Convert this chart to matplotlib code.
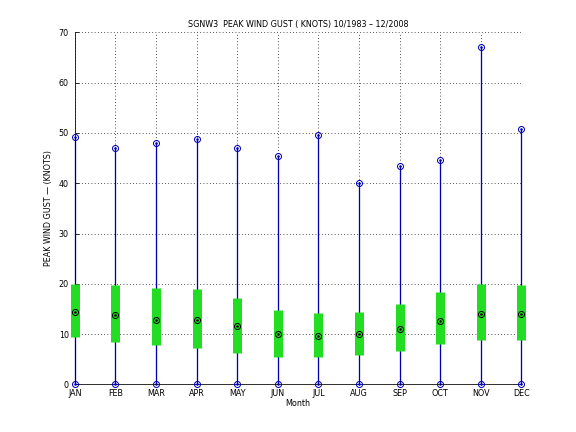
import numpy as np
import matplotlib
matplotlib.use('Agg')
import matplotlib.pyplot as plt

months = ['JAN', 'FEB', 'MAR', 'APR', 'MAY', 'JUN', 'JUL', 'AUG', 'SEP', 'OCT', 'NOV', 'DEC']
gust_max = [49.2, 47.1, 48.1, 48.8, 47.1, 45.5, 49.7, 40.0, 43.5, 44.7, 67.0, 50.8]
gust_min = [0, 0, 0, 0, 0, 0, 0, 0, 0, 0, 0, 0]
gust_mean = [14.5, 13.9, 12.9, 12.8, 11.6, 10.0, 9.7, 10.0, 11.1, 12.7, 14.0, 14.0]
band_low = [9.5, 8.5, 7.8, 7.2, 6.2, 5.4, 5.4, 5.8, 6.6, 8.0, 8.8, 8.8]
band_high = [20.0, 19.7, 19.1, 18.9, 17.1, 14.9, 14.3, 14.5, 16.1, 18.3, 19.9, 19.7]

x = np.arange(1, 13)

fig = plt.figure(figsize=(8, 6), dpi=72)
ax = fig.add_axes([0.13, 0.11, 0.775, 0.815])

ax.vlines(x, gust_min, gust_max, colors='#0000b0', linewidth=1.3, zorder=2, clip_on=False)
ax.vlines(x, band_low, band_high, colors='#22dd22', linewidth=9, zorder=3, clip_on=False)
for vals, col in [(gust_max, '#0000b0'), (gust_min, '#0000b0'), (gust_mean, 'black')]:
    ax.plot(x, vals, 'o', color=col, markerfacecolor='none', markersize=6,
            markeredgewidth=1.0, zorder=4, clip_on=False)
    ax.plot(x, vals, '.', color=col, markersize=3, zorder=5, clip_on=False)

ax.set_xlim(1, 12)
ax.set_ylim(0, 70)
ax.set_xticks(x)
ax.set_xticklabels(months)
ax.set_yticks(range(0, 71, 10))
ax.grid(True, color='black', linestyle=(0, (1, 3)), linewidth=0.8)
ax.set_axisbelow(True)
ax.spines['top'].set_visible(False)
ax.spines['right'].set_visible(False)
ax.tick_params(direction='in', length=4, labelsize=8)
ax.tick_params(axis='y', pad=6)
ax.tick_params(axis='x', pad=5)

ax.set_title('SGNW3  PEAK WIND GUST ( KNOTS) 10/1983 \u2013 12/2008', fontsize=8, pad=5)
ax.set_xlabel('Month', fontsize=8, labelpad=1)
ax.set_ylabel('PEAK WIND GUST \u2014 (KNOTS)', fontsize=8, labelpad=6)

fig.savefig('out.png', dpi=72)
